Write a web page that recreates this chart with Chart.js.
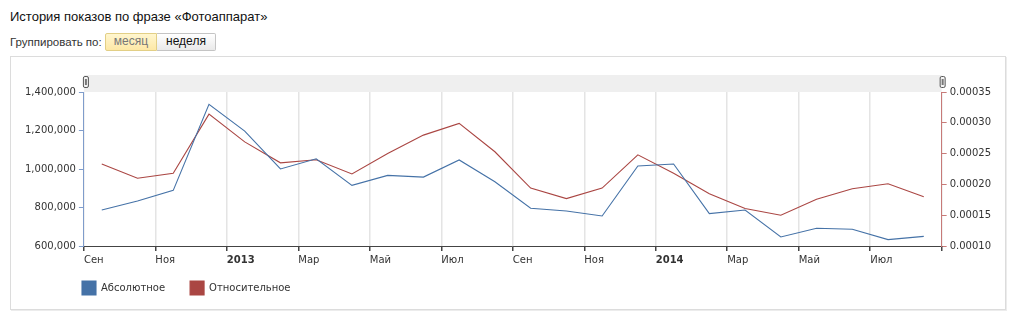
<!DOCTYPE html>
<html>
<head>
<meta charset="utf-8">
<script src="https://cdn.jsdelivr.net/npm/chart.js@4.4.0/dist/chart.umd.min.js"></script>
<style>
  html, body { margin: 0; padding: 0; background: #fff; overflow: hidden; width: 1024px; height: 319px; }
  .title { position: absolute; left: 10px; top: 9px; font: 13px "Liberation Sans", Arial, sans-serif; color: #111; }
  .group { position: absolute; left: 10px; top: 36px; font: 11.5px "Liberation Sans", Arial, sans-serif; color: #333; }
  .btn { position: absolute; top: 33px; height: 18px; line-height: 16px; font: 12px "Liberation Sans", Arial, sans-serif; text-align: center; box-sizing: border-box; }
  .btn.on { left: 105px; width: 52px; background: linear-gradient(#fff6cf, #fde8a6); border: 1px solid #e2cf86; color: #777; border-radius: 2px 0 0 2px; }
  .btn.off { left: 157px; width: 59px; background: linear-gradient(#ffffff, #e9e9e9); border: 1px solid #c4c4c4; border-left: none; color: #111; border-radius: 0 2px 2px 0; }
  .box { position: absolute; left: 10px; top: 56px; width: 996px; height: 254px; border: 1px solid #dcdcdc; box-shadow: 1px 1px 0 #ececec; box-sizing: border-box; }
  .wrap { position: absolute; left: 11px; top: 57px; width: 995px; height: 261px; }
</style>
</head>
<body>
<div class="title">История показов по фразе «Фотоаппарат»</div>
<div class="group">Группировать по:</div>
<div class="btn on">месяц</div>
<div class="btn off">неделя</div>
<div class="box"></div>
<div class="wrap"><canvas id="grafico"></canvas></div>
<script>
// months Sep 2012 .. Aug 2014, points placed mid-month
const meses = ['Сен 2012','Окт 2012','Ноя 2012','Дек 2012','Янв 2013','Фев 2013','Мар 2013','Апр 2013',
  'Май 2013','Июн 2013','Июл 2013','Авг 2013','Сен 2013','Окт 2013','Ноя 2013','Дек 2013',
  'Янв 2014','Фев 2014','Мар 2014','Апр 2014','Май 2014','Июн 2014','Июл 2014','Авг 2014'];
const absoluto = [787000, 834000, 889000, 1336000, 1197000, 1000000, 1053000, 915000,
  967000, 958000, 1047000, 934000, 796000, 782000, 756000, 1016000,
  1026000, 768000, 787000, 647000, 692000, 687000, 633000, 650000];
const relativo = [0.000233, 0.000210, 0.000218, 0.000314, 0.000269, 0.000235, 0.000240, 0.000217,
  0.000250, 0.000280, 0.000299, 0.000253, 0.000194, 0.000177, 0.000194, 0.000248,
  0.000218, 0.000185, 0.000161, 0.000150, 0.000176, 0.000193, 0.000201, 0.000180];
const rotulosX = ['Сен','Ноя','2013','Мар','Май','Июл','Сен','Ноя','2014','Мар','Май','Июл',''];

const azul = '#4572A7';
const vermelho = '#AA4643';
const fonte = '"DejaVu Sans", Verdana, sans-serif';

const pontos = (arr) => arr.map((v, i) => ({ x: i + 0.5, y: v }));

// grey scrollbar band above plot with two handles
const faixa = {
    id: 'faixa',
    beforeDraw(chart) {
        const { ctx, chartArea } = chart;
        ctx.save();
        ctx.fillStyle = '#efefef';
        ctx.fillRect(chartArea.left, chartArea.top - 17, chartArea.right - chartArea.left, 17);
        [chartArea.left + 2, chartArea.right + 1].forEach(function (x) {
            ctx.fillStyle = '#f4f4f4';
            ctx.strokeStyle = '#555';
            ctx.lineWidth = 1;
            ctx.beginPath();
            ctx.roundRect(x - 2.5, chartArea.top - 15.5, 5, 11, 1.5);
            ctx.fill();
            ctx.stroke();
            ctx.fillStyle = '#777';
            ctx.fillRect(x - 1, chartArea.top - 13, 2, 6);
        });
        ctx.restore();
    },
    afterLayout(chart) {
        // legend sits under the plot, not at the canvas edge
        chart.legend.left += 35;
        chart.legend.top -= 13;
    }
};

document.addEventListener("DOMContentLoaded", function () {
    const ctx = document.getElementById('grafico').getContext('2d');

    new Chart(ctx, {
        type: 'line',
        data: {
            datasets: [{
                label: 'Абсолютное',
                data: pontos(absoluto),
                borderColor: azul,
                backgroundColor: azul,
                borderWidth: 1.1,
                pointRadius: 0,
                tension: 0,
                yAxisID: 'yAbs'
            }, {
                label: 'Относительное',
                data: pontos(relativo),
                borderColor: vermelho,
                backgroundColor: vermelho,
                borderWidth: 1.1,
                pointRadius: 0,
                tension: 0,
                yAxisID: 'yRel'
            }]
        },
        options: {
            responsive: true,
            maintainAspectRatio: false,
            animation: false,
            layout: { padding: { left: 11, right: 12, top: 35, bottom: 0 } },
            plugins: {
                tooltip: { enabled: false },
                legend: {
                    position: 'bottom',
                    align: 'start',
                    labels: {
                        boxWidth: 14,
                        boxHeight: 14,
                        padding: 25,
                        color: '#333',
                        font: { family: fonte, size: 10 }
                    }
                }
            },
            scales: {
                x: {
                    type: 'linear',
                    min: 0,
                    max: 24,
                    border: { color: '#444' },
                    grid: { color: '#e4e4e4', lineWidth: 1.5, tickColor: '#444', tickLength: 5 },
                    ticks: {
                        stepSize: 2,
                        align: 'start',
                        padding: 3,
                        color: '#333',
                        autoSkip: false,
                        maxRotation: 0,
                        callback: (v) => rotulosX[v / 2],
                        font: (c) => ({ family: fonte, size: 10, weight: (c.tick && (c.tick.value === 4 || c.tick.value === 16)) ? 'bold' : 'normal' })
                    }
                },
                yAbs: {
                    position: 'left',
                    min: 600000,
                    max: 1400000,
                    border: { color: '#7f9ccb' },
                    grid: { drawOnChartArea: false, tickColor: '#7f9ccb', tickLength: 5 },
                    ticks: {
                        stepSize: 200000,
                        color: '#333',
                        font: { family: fonte, size: 10 },
                        callback: (v) => v.toLocaleString('en-US')
                    }
                },
                yRel: {
                    position: 'right',
                    min: 0.0001,
                    max: 0.00035,
                    border: { color: '#c77a78' },
                    grid: { drawOnChartArea: false, tickColor: '#c77a78', tickLength: 5 },
                    ticks: {
                        stepSize: 0.00005,
                        color: '#333',
                        font: { family: fonte, size: 10 },
                        callback: (v) => v.toFixed(5)
                    }
                }
            }
        },
        plugins: [faixa]
    });
});
</script>
</body>
</html>
